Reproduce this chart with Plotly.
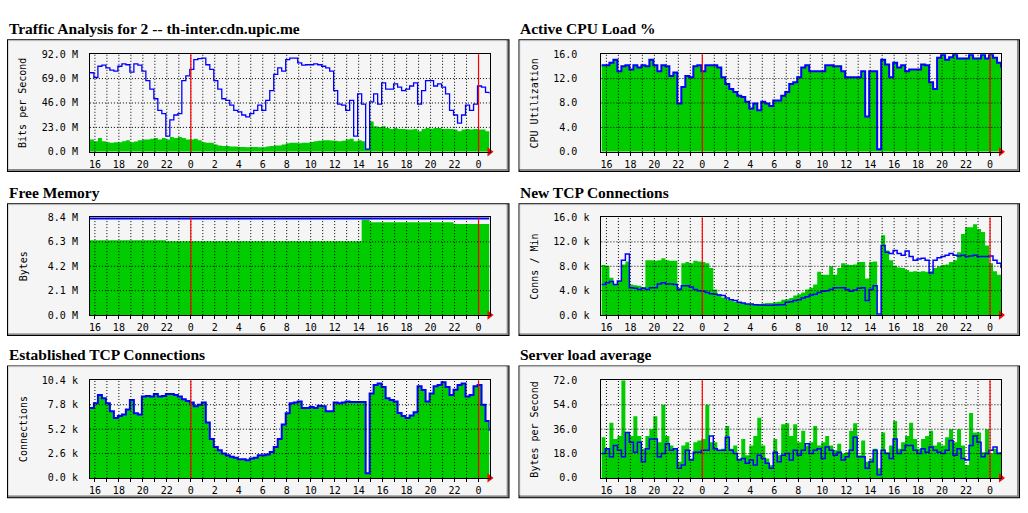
import plotly.graph_objects as go

W, H = 1028, 513
GREEN = "#00CC00"
BLUE = "#0000FF"
RED = "#FF0000"
BG = "#F5F5F5"
MONO = "DejaVu Sans Mono"
SERIF = "Liberation Serif"
NB = "\u00a0"

# ---- time axis: 5-minute MRTG graph sampled every 20 minutes (hours relative to first midnight)
START_HOUR = -101 / 12      # about 15:35
STEP_HOUR = 1 / 3
N_SAMPLES = 101
HOURS = [START_HOUR + STEP_HOUR * i for i in range(N_SAMPLES)]

TICK_HOURS = [-8, -7, -6, -5, -4, -3, -2, -1, 0, 1, 2, 3, 4, 5, 6, 7, 8, 9, 10, 11, 12,
              13, 14, 15, 16, 17, 18, 19, 20, 21, 22, 23, 24]
TICK_LABELS = ["16", "", "18", "", "20", "", "22", "", "0", "", "2", "", "4", "", "6", "", "8", "",
               "10", "", "12", "", "14", "", "16", "", "18", "", "20", "", "22", "", "0"]
MIDNIGHTS = [0, 24]

# ---- Traffic (Mbit/s)
TRAFFIC_IN = [11.7, 10, 13, 10, 9, 8.6, 9, 9, 10, 11,
              9, 9.8, 11, 11.7, 11.7, 12.3, 13, 11.7, 13, 11.7,
              14, 13, 14, 13, 11.7, 11.7, 12.3, 11, 9, 8.6,
              8.6, 7, 6, 5.5, 5.5, 4.9, 4.9, 4.6, 4.6, 4.3,
              4.6, 4.6, 4.3, 4.3, 4.9, 5.5, 6, 6, 7, 8,
              8.6, 8.6, 8, 8.6, 8.6, 9.2, 10, 10.4, 11, 11,
              10.7, 10.4, 10, 10.4, 11.7, 12.3, 10, 11, 10, 3,
              28.5, 24, 23.3, 24, 22.4, 21.5, 22.4, 21.5, 21.5, 20.9,
              20.9, 21.5, 19.3, 21.5, 22.4, 21.8, 22.4, 22.4, 21.5, 21.8,
              21.5, 20.9, 19.3, 20.9, 21.5, 20.9, 21.5, 20.9, 20.9, 19.3, 17]
TRAFFIC_OUT = [74.5, 70, 80.6, 81.6, 79, 77, 76, 80.6, 82.8, 82,
               75, 82.8, 81.6, 76, 67, 59, 50, 39, 36, 14.7,
               30, 34.7, 36, 67, 71.5, 77.6, 86.8, 87.7, 88.3, 82,
               77.6, 67, 59, 50, 48.5, 43.9, 39, 37.7, 34.7, 33,
               36, 39, 44, 39, 48.5, 57.7, 73, 79, 76, 86.8,
               88.3, 88.3, 83.7, 81.6, 82, 82, 82.8, 82, 80.6, 79,
               76, 57.7, 45, 44, 39, 48.5, 14.7, 54.6, 45, 2.5,
               47, 54.6, 45, 65, 59, 59, 64, 61, 57.7, 59,
               62, 65, 45, 57.7, 67, 67, 62, 64, 61, 54.6,
               39, 34.7, 27, 34.7, 44, 39, 45, 62, 61, 56, 54.6]
TRAFFIC_TICKS = [0, 23, 46, 69, 92]
TRAFFIC_LABELS = ["0.0 M", "23.0 M", "46.0 M", "69.0 M", "92.0 M"]

# ---- Active CPU load (%)
CPU_LOAD = [14.2, 14.2, 14.6, 15.1, 13.2, 14.0, 14.2, 13.5, 14.2, 13.8,
            14.2, 14.0, 15.1, 14.2, 13.2, 14.2, 14.0, 12.4, 13.0, 7.9,
            10.6, 12.4, 12.2, 14.0, 14.2, 13.2, 14.2, 14.2, 14.2, 13.8,
            12.2, 11.1, 10.3, 9.8, 9.2, 9.0, 8.2, 7.1, 7.9, 6.8,
            8.2, 7.9, 7.5, 8.4, 8.4, 9.2, 9.8, 11.1, 11.4, 12.2,
            13.8, 14.2, 13.2, 13.2, 13.2, 13.2, 14.2, 14.2, 14.0, 14.0,
            13.2, 12.2, 12.2, 12.2, 12.2, 13.2, 5.8, 13.2, 13.2, 0.4,
            15.1, 14.3, 12.2, 14.6, 13.8, 14.2, 13.2, 13.5, 13.5, 13.5,
            14.3, 14.2, 11.4, 10.3, 15.4, 15.9, 15.1, 15.5, 16.0, 15.3,
            15.3, 15.3, 15.9, 15.3, 15.3, 15.9, 15.3, 16.0, 15.4, 14.6, 13.8]
CPU_TICKS = [0, 4, 8, 12, 16]
CPU_LABELS = ["0.0", "4.0", "8.0", "12.0", "16.0"]

# ---- Free memory (MB)
MEM_FREE = [6.43, 6.43, 6.43, 6.43, 6.43, 6.43, 6.43, 6.43, 6.43, 6.43,
            6.43, 6.43, 6.43, 6.43, 6.43, 6.43, 6.43, 6.43, 6.43, 6.35,
            6.35, 6.35, 6.35, 6.35, 6.35, 6.35, 6.35, 6.35, 6.35, 6.35,
            6.35, 6.35, 6.35, 6.35, 6.35, 6.35, 6.35, 6.35, 6.35, 6.35,
            6.35, 6.35, 6.35, 6.35, 6.35, 6.35, 6.35, 6.35, 6.35, 6.35,
            6.35, 6.35, 6.35, 6.35, 6.35, 6.35, 6.35, 6.35, 6.35, 6.35,
            6.35, 6.35, 6.35, 6.35, 6.35, 6.35, 6.35, 6.35, 8.2, 8.2,
            7.98, 7.98, 7.98, 7.98, 7.98, 7.98, 7.98, 7.98, 7.98, 7.98,
            7.98, 7.98, 7.98, 7.98, 7.98, 7.98, 7.98, 7.98, 7.98, 7.98,
            7.98, 7.84, 7.84, 7.84, 7.84, 7.84, 7.84, 7.84, 7.84, 7.84, 7.84]
MEM_TOTAL = [8.32, 8.32, 8.32, 8.32, 8.32, 8.32, 8.32, 8.32, 8.32, 8.32,
             8.32, 8.32, 8.32, 8.32, 8.32, 8.32, 8.32, 8.32, 8.32, 8.32,
             8.32, 8.32, 8.32, 8.32, 8.32, 8.32, 8.32, 8.32, 8.32, 8.32,
             8.32, 8.32, 8.32, 8.32, 8.32, 8.32, 8.32, 8.32, 8.32, 8.32,
             8.32, 8.32, 8.32, 8.32, 8.32, 8.32, 8.32, 8.32, 8.32, 8.32,
             8.32, 8.32, 8.32, 8.32, 8.32, 8.32, 8.32, 8.32, 8.32, 8.32,
             8.32, 8.32, 8.32, 8.32, 8.32, 8.32, 8.32, 8.32, 8.32, 8.32,
             8.32, 8.32, 8.32, 8.32, 8.32, 8.32, 8.32, 8.32, 8.32, 8.32,
             8.32, 8.32, 8.32, 8.32, 8.32, 8.32, 8.32, 8.32, 8.32, 8.32,
             8.32, 8.32, 8.32, 8.32, 8.32, 8.32, 8.32, 8.32, 8.32, 8.32, 8.32]
MEM_TICKS = [0, 2.1, 4.2, 6.3, 8.4]
MEM_LABELS = ["0.0 M", "2.1 M", "4.2 M", "6.3 M", "8.4 M"]

# ---- New TCP connections (k / min)
NEWTCP_GREEN = [8.2, 8.1, 6.1, 5.0, 5.6, 8.3, 8.8, 5.0, 4.9, 4.8,
                4.6, 9.0, 9.0, 8.9, 9.0, 9.3, 9.0, 8.9, 8.9, 4.5,
                8.5, 8.7, 8.5, 8.9, 8.8, 8.7, 8.5, 7.7, 4.2, 3.4,
                2.9, 2.6, 2.4, 2.2, 2.1, 2.0, 1.8, 1.8, 1.8, 1.8,
                1.9, 2.0, 2.0, 2.1, 2.2, 2.5, 2.6, 2.8, 3.2, 3.4,
                3.7, 4.2, 4.5, 5.0, 7.1, 6.6, 6.6, 8.0, 6.6, 7.7,
                8.5, 8.3, 8.2, 8.3, 8.7, 8.7, 6.0, 8.7, 8.8, 0.0,
                13.1, 10.6, 9.0, 8.1, 7.8, 7.7, 7.4, 7.1, 7.2, 7.1,
                7.2, 7.1, 7.2, 7.7, 8.0, 8.2, 8.3, 8.7, 9.0, 10.3,
                13.3, 14.4, 14.4, 14.9, 14.1, 13.6, 11.4, 8.5, 7.2, 6.6, 6.4]
NEWTCP_BLUE = [5.0, 5.3, 5.5, 5.0, 5.6, 9.0, 10.0, 4.5, 4.4, 4.2,
               4.4, 4.2, 4.5, 4.5, 5.1, 5.3, 5.1, 5.1, 5.0, 4.2,
               4.8, 4.8, 4.6, 4.2, 4.0, 3.9, 3.7, 3.5, 3.4, 3.3,
               3.2, 2.8, 2.5, 2.4, 2.1, 2.0, 1.8, 1.8, 1.7, 1.65,
               1.65, 1.6, 1.6, 1.65, 1.7, 1.7, 2.1, 2.2, 2.4, 2.5,
               2.8, 3.0, 3.3, 3.4, 3.7, 3.9, 4.0, 4.2, 4.5, 4.5,
               4.5, 4.2, 3.9, 4.1, 4.4, 4.5, 2.4, 4.2, 4.8, 0.2,
               11.4, 10.3, 10.1, 10.6, 10.1, 9.8, 10.5, 9.6, 9.0, 9.2,
               9.3, 9.0, 6.9, 9.0, 9.4, 9.6, 9.8, 10.1, 9.8, 9.7,
               9.8, 9.6, 9.7, 9.8, 9.6, 9.6, 9.6, 9.7, 9.0, 8.5, 7.7]
NEWTCP_TICKS = [0, 4, 8, 12, 16]
NEWTCP_LABELS = ["0.0 k", "4.0 k", "8.0 k", "12.0 k", "16.0 k"]

# ---- Established TCP connections (k)
EST_TCP = [7.45, 7.97, 8.84, 8.5, 7.97, 7.1, 6.4, 6.6, 6.76, 7.3,
           8.3, 6.9, 6.76, 8.67, 8.74, 8.67, 8.94, 8.67, 8.74, 8.94,
           8.94, 8.84, 8.67, 8.39, 8.2, 8.04, 7.63, 7.8, 8.04, 5.9,
           4.16, 3.3, 2.95, 2.6, 2.43, 2.25, 2.15, 2.0, 2.0, 1.9,
           2.08, 2.15, 2.43, 2.43, 2.5, 2.77, 3.3, 4.16, 5.7, 6.9,
           7.97, 8.04, 8.15, 7.45, 7.45, 7.56, 7.45, 7.7, 7.63, 7.1,
           7.1, 8.04, 7.97, 8.04, 8.15, 8.1, 8.08, 8.1, 8.1, 0.5,
           9.0, 9.9, 10.05, 9.7, 8.5, 8.3, 8.15, 6.93, 6.6, 6.4,
           6.66, 7.0, 9.78, 9.36, 8.15, 9.0, 9.78, 9.9, 10.2, 9.7,
           8.84, 9.4, 9.9, 10.05, 8.67, 8.84, 9.78, 9.9, 7.8, 6.07, 5.0]
EST_TICKS = [0, 2.6, 5.2, 7.8, 10.4]
EST_LABELS = ["0.0 k", "2.6 k", "5.2 k", "7.8 k", "10.4 k"]

# ---- Server load average
LOAD_GREEN = [30, 21.6, 40.8, 28.8, 31, 72, 33.6, 31, 45.6, 31,
              21.6, 31, 36, 45.6, 26.4, 54, 31, 24, 21.6, 12,
              24, 26.4, 14.4, 26.4, 27.6, 28.8, 54, 26.4, 26.4, 20.4,
              21.6, 38.4, 21.6, 24, 14.4, 28.8, 16.8, 24, 31, 44.4,
              24, 14.4, 9.6, 28.8, 16.8, 39.6, 40.3, 31, 39.6, 26.4,
              34.8, 24, 26.4, 38.4, 24, 26.4, 31, 24, 20.4, 25.2,
              18, 19, 34.8, 40.3, 16.8, 27.6, 12, 14.4, 21.6, 7.2,
              33.6, 19, 24, 42, 21.6, 26.4, 31, 40.8, 28.8, 21.6,
              28.8, 31, 34.8, 24, 26.4, 24, 30, 36, 26.4, 36,
              24, 9.6, 48, 33.6, 33.6, 19, 36, 18, 21.6, 19, 18]
LOAD_BLUE = [18, 21.6, 15.6, 24, 20.4, 15.6, 33.6, 26.4, 19, 26.4,
             12, 21.6, 28.8, 28.8, 15.6, 18, 25.2, 20.4, 21.6, 7.2,
             9.6, 20.4, 13.2, 19, 19, 20.4, 20.4, 31, 21.6, 20.4,
             20.4, 30, 20.4, 18, 13.2, 14.4, 10.8, 13.2, 9.6, 16.8,
             14.4, 10.8, 7.2, 19, 12, 16.8, 18, 13.2, 20.4, 16.8,
             20.4, 25.2, 18, 20.4, 21.6, 14.4, 22.8, 20.4, 16.8, 19,
             13.2, 15.6, 20.4, 30, 15.6, 15.6, 7.2, 12, 20.4, 2.4,
             20.4, 18, 14.4, 28.8, 18, 20.4, 24, 24, 20.4, 18,
             21.6, 19, 22.8, 20.4, 19, 18, 20.4, 27.6, 16.8, 21.6,
             14.4, 13.2, 24, 31, 26.4, 15.6, 18, 20.4, 22.8, 18, 19]
LOAD_TICKS = [0, 18, 36, 54, 72]
LOAD_LABELS = ["0.0", "18.0", "36.0", "54.0", "72.0"]

PANELS = [
    dict(title="Traffic Analysis for 2 -- th-inter.cdn.upic.me", ytitle="Bits per Second",
         green=TRAFFIC_IN, blue=TRAFFIC_OUT, ticks=TRAFFIC_TICKS, labels=TRAFFIC_LABELS,
         col=0, row=0, bw=1.3),
    dict(title="Active CPU Load %", ytitle="CPU Utilization",
         green=CPU_LOAD, blue=CPU_LOAD, ticks=CPU_TICKS, labels=CPU_LABELS,
         col=1, row=0, bw=2),
    dict(title="Free Memory", ytitle="Bytes",
         green=MEM_FREE, blue=MEM_TOTAL, ticks=MEM_TICKS, labels=MEM_LABELS,
         col=0, row=1, bw=2.5),
    dict(title="New TCP Connections", ytitle="Conns / Min",
         green=NEWTCP_GREEN, blue=NEWTCP_BLUE, ticks=NEWTCP_TICKS, labels=NEWTCP_LABELS,
         col=1, row=1, bw=1.5),
    dict(title="Established TCP Connections", ytitle="Connections",
         green=EST_TCP, blue=EST_TCP, ticks=EST_TICKS, labels=EST_LABELS,
         col=0, row=2, bw=2),
    dict(title="Server load average", ytitle="Bytes per Second",
         green=LOAD_GREEN, blue=LOAD_BLUE, ticks=LOAD_TICKS, labels=LOAD_LABELS,
         col=1, row=2, bw=1.5),
]

# ---- layout geometry in pixels
COLS = [dict(frame=(6, 509), plot=(89, 489), ytitle_x=22),
        dict(frame=(518, 1020), plot=(601, 1001), ytitle_x=534)]
ROWS = [dict(frame=(34, 170), plot=(49.3, 149.3), title_y=23),
        dict(frame=(202, 338), plot=(216.5, 316.5), title_y=191),
        dict(frame=(368, 504), plot=(383.3, 483.3), title_y=357)]


def px(x):
    return x / W


def py(y):
    return 1 - y / H


def rect(x0, x1, y0, y1, color):
    return dict(type="rect", xref="paper", yref="paper", x0=px(x0), x1=px(x1),
                y0=py(y1), y1=py(y0), fillcolor=color, line=dict(width=0), layer="below")


fig = go.Figure()
shapes = []
annotations = []
layout_axes = {}

for k, p in enumerate(PANELS, start=1):
    c = COLS[p["col"]]
    r = ROWS[p["row"]]
    xa = "x" if k == 1 else f"x{k}"
    ya = "y" if k == 1 else f"y{k}"
    xname = "xaxis" if k == 1 else f"xaxis{k}"
    yname = "yaxis" if k == 1 else f"yaxis{k}"

    fx0, fx1 = c["frame"]
    fy0, fy1 = r["frame"]
    shapes += [rect(fx0, fx1, fy0, fy1, "#000000"),
               rect(fx0 + 1, fx1 - 1, fy0 + 1, fy1 - 1, "#8A8A8A"),
               rect(fx0 + 1, fx1 - 3, fy0 + 1, fy1 - 3, "#D8D8D8"),
               rect(fx0 + 2, fx1 - 3, fy0 + 2, fy1 - 3, BG)]

    fig.add_trace(go.Scatter(x=HOURS, y=p["green"], mode="lines",
                             line=dict(width=0, shape="hv", color=GREEN),
                             fill="tozeroy", fillcolor=GREEN,
                             xaxis=xa, yaxis=ya, hoverinfo="skip", showlegend=False))
    fig.add_trace(go.Scatter(x=HOURS, y=p["blue"], mode="lines",
                             line=dict(width=p["bw"], shape="hv", color=BLUE),
                             xaxis=xa, yaxis=ya, hoverinfo="skip", showlegend=False))
    fig.add_trace(go.Scatter(x=[HOURS[-1]], y=[p["ticks"][0]], mode="markers",
                             marker=dict(symbol="triangle-right", size=8, color=RED),
                             cliponaxis=False, xaxis=xa, yaxis=ya,
                             hoverinfo="skip", showlegend=False))

    ymax = p["ticks"][-1]
    # MRTG right-pads unit-less labels with the blank unit field
    labels = [t if t.endswith(("M", "k")) else t + NB + NB for t in p["labels"]]
    px0, px1 = c["plot"]
    py0, py1 = r["plot"]
    layout_axes[xname] = dict(
        domain=[px(px0), px(px1)], range=[HOURS[0], HOURS[-1]], anchor=ya,
        tickmode="array", tickvals=TICK_HOURS, ticktext=TICK_LABELS,
        ticks="outside", ticklen=3, tickcolor="black", tickwidth=1,
        showgrid=False, zeroline=False, showline=True, linecolor="black",
        linewidth=1, mirror=True, layer="above traces",
        tickfont=dict(family=MONO, size=10, color="black"), fixedrange=True)
    layout_axes[yname] = dict(
        domain=[py(py1), py(py0)], range=[0, ymax], anchor=xa,
        tickmode="array", tickvals=p["ticks"], ticktext=labels,
        ticks="", showgrid=False, zeroline=False, showline=True,
        linecolor="black", linewidth=1, mirror=True, layer="above traces",
        ticklabelstandoff=9,
        tickfont=dict(family=MONO, size=10, color="black"), fixedrange=True)

    # dotted grid drawn over the data, MRTG style
    for h in TICK_HOURS:
        shapes.append(dict(type="line", xref=xa, yref=f"{ya} domain", x0=h, x1=h, y0=0, y1=1,
                           line=dict(color="black", width=1, dash="1px,2px"), layer="above"))
    for v in p["ticks"][1:-1]:
        shapes.append(dict(type="line", xref=f"{xa} domain", yref=ya, x0=0, x1=1, y0=v, y1=v,
                           line=dict(color="black", width=1, dash="1px,2px"), layer="above"))
    for m in MIDNIGHTS:
        shapes.append(dict(type="line", xref=xa, yref=f"{ya} domain", x0=m, x1=m, y0=0, y1=1,
                           line=dict(color=RED, width=1.2), layer="above"))

    annotations.append(dict(text=f"<b>{p['title']}</b>", xref="paper", yref="paper",
                            x=px(fx0), y=py(r["title_y"]), xanchor="left", yanchor="middle",
                            showarrow=False,
                            font=dict(family=SERIF, size=15.5, color="black")))
    annotations.append(dict(text=p["ytitle"], xref="paper", yref="paper",
                            x=px(c["ytitle_x"]), y=py((py0 + py1) / 2), xanchor="center",
                            yanchor="middle", textangle=-90, showarrow=False,
                            font=dict(family=MONO, size=10, color="black")))

fig.update_layout(
    width=W, height=H, margin=dict(l=0, r=0, t=0, b=0), autosize=False,
    paper_bgcolor="white", plot_bgcolor="rgba(0,0,0,0)",
    shapes=shapes, annotations=annotations, showlegend=False,
    **layout_axes)

fig.write_html("out.html", config={"responsive": False, "displayModeBar": False},
               post_script="document.body.style.margin='0px';"
                           "document.body.style.overflow='hidden';")
